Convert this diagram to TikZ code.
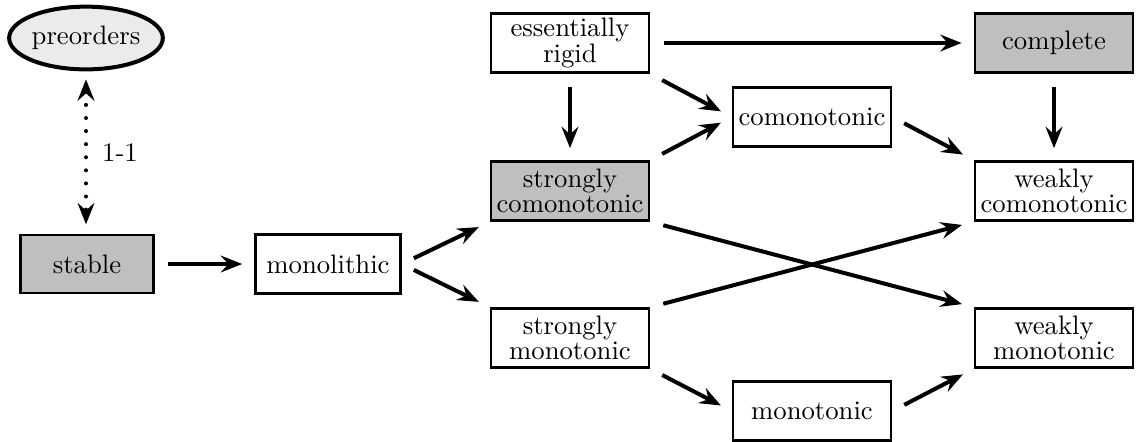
\documentclass[tikz,border=0pt]{standalone}
\usetikzlibrary{arrows.meta,shapes.geometric}
\begin{document}
\begin{tikzpicture}[x=0.3745pt,y=-0.3745pt,
  box/.style={draw,line width=1pt,rectangle,inner sep=0pt,align=center,
    font=\fontsize{10}{9.6}\selectfont,minimum width=59.2pt,minimum height=22.1pt},
  gbox/.style={box,fill=black!25},
  arr/.style={line width=1.5pt,shorten <=5pt,shorten >=4.5pt,
    -{Stealth[length=8pt,width=6.3pt,inset=2.8pt]}},
  dotarr/.style={line width=1.5pt,line cap=round,dash pattern=on 0pt off 4.9pt,
    shorten <=3pt,shorten >=3.5pt,
    {Stealth[length=8pt,width=6.3pt,inset=2.8pt]}-{Stealth[length=8pt,width=6.3pt,inset=2.8pt]}}
]
\useasboundingbox (0,0) rectangle (1137,441);
\node[ellipse,draw,line width=1.5pt,fill=black!8,minimum width=57pt,minimum height=23.5pt,inner sep=0pt] (pre) at (86,38) {preorders};
\node[gbox,minimum width=49.8pt,minimum height=21.7pt] (stable) at (87,264) {stable};
\node[box,minimum width=54.3pt] (mono) at (328,264) {monolithic};
\node[box] (er) at (570,43) {essentially\\rigid};
\node[gbox] (sc) at (570,191) {strongly\\comonotonic};
\node[box] (sm) at (570,338) {strongly\\monotonic};
\node[box] (com) at (812,117) {comonotonic};
\node[box] (mon) at (812,411) {monotonic};
\node[gbox] (comp) at (1054,43) {complete};
\node[box] (wc) at (1054,191) {weakly\\comonotonic};
\node[box] (wm) at (1054,338) {weakly\\monotonic};

\draw[dotarr] (pre.south) -- (pre.south |- stable.north) node[midway,right=2pt,solid] {1-1};
\draw[arr] (stable) -- (mono);
\draw[arr] (mono.east) -- (sc.south west);
\draw[arr] (mono.east) -- (sm.north west);
\draw[arr] (er) -- (comp);
\draw[arr] (er) -- (sc);
\draw[arr] (er.south east) -- (com.west);
\draw[arr] (sc.north east) -- (com.west);
\draw[arr] (com.east) -- (wc.north west);
\draw[arr] (comp) -- (wc);
\draw[arr] (sc.south east) -- (wm.north west);
\draw[arr] (sm.north east) -- (wc.south west);
\draw[arr] (sm.south east) -- (mon.west);
\draw[arr] (mon.east) -- (wm.south west);
\end{tikzpicture}
\end{document}
